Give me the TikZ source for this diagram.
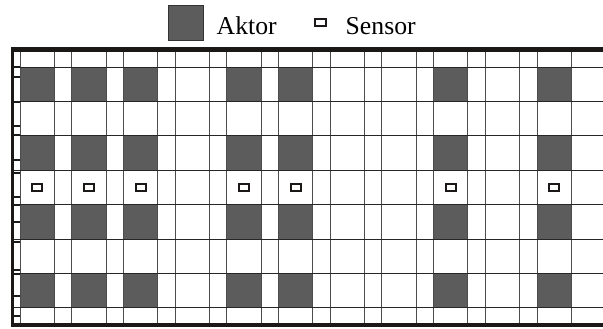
\documentclass[tikz,border=0pt]{standalone}
\usepackage{fontspec}
\setmainfont{Liberation Serif}
\definecolor{aktorfill}{RGB}{92,92,92}
\definecolor{frame}{RGB}{28,24,24}
\begin{document}
\begin{tikzpicture}[x=1pt,y=-1pt,
  vline/.style={draw=black!70,line width=0.9pt},
  hline/.style={draw=black!85,line width=0.9pt},
  aktor/.style={fill=aktorfill},
  sensorbox/.style={draw=frame,fill=white,line width=2pt},
  border/.style={draw=frame,line width=4.2pt},
  tick/.style={draw=frame,line width=1.6pt},
  legendtext/.style={font=\fontsize{25.7}{30}\selectfont,anchor=base west,inner sep=0pt}]
\useasboundingbox (0,0) rectangle (603,329);
% legend
\fill[aktor,draw=black!80,line width=0.8pt] (168,5) rectangle (203,40.5);
\node[legendtext] (aktorlabel) at (216.5,35) {Aktor};
\draw[sensorbox] (315,19.3) rectangle (325.8,25.8);
\node[legendtext] (sensorlabel) at (345.5,35) {Sensor};
% aktors
\foreach \k in {0,1,2,4,5,8,10} {
  \foreach \j in {0,2,4,6} {
    \pgfmathsetmacro\xa{20+51.7*\k}
    \pgfmathsetmacro\ya{67+34.4*\j}
    \fill[aktor] (\xa,\ya) rectangle ++(34.3,34.4);
  }
}
% grid lines
\foreach \k in {0,...,10} {
  \pgfmathsetmacro\xa{20+51.7*\k}
  \pgfmathsetmacro\xb{\xa+34.3}
  \draw[vline] (\xa,52) -- (\xa,323);
  \draw[vline] (\xb,52) -- (\xb,323);
}
\foreach \j in {0,...,7} {
  \pgfmathsetmacro\ya{67+34.4*\j}
  \draw[hline] (14,\ya) -- (603,\ya);
}
% sensors
\foreach \k in {0,1,2,4,5,8,10} {
  \pgfmathsetmacro\xc{20+51.7*\k+17.15}
  \draw[sensorbox] (\xc-5,184) rectangle (\xc+5,190.6);
}
% left ruler ticks
\foreach \t in {67,77,102,126,135,160,173,197,205,222,242,270,274,296,316} {
  \draw[tick] (14,\t) -- (20,\t);
}
% frame
\draw[draw=frame,line width=3.4pt] (12.5,47.5) -- (12.5,326.8);
\draw[border] (10.8,49.6) -- (603,49.6);
\draw[border] (10.8,324.7) -- (603,324.7);
\end{tikzpicture}
\end{document}
